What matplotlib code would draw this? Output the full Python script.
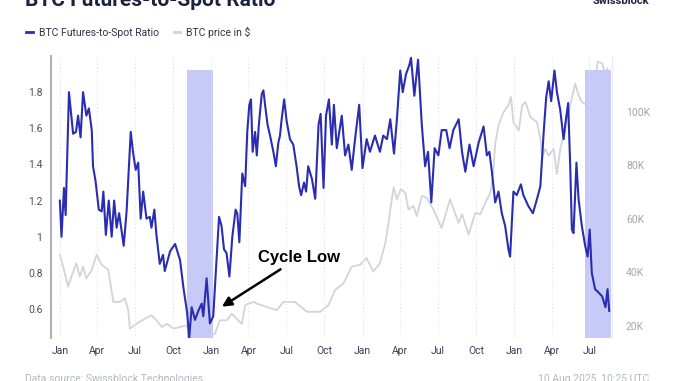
import matplotlib
matplotlib.use("Agg")
import matplotlib.pyplot as plt
import matplotlib.dates as mdates
from matplotlib.ticker import FuncFormatter
import pandas as pd

# days since 2022-01-01
ratio_days = [0, 4, 10, 14, 22, 32, 39, 44, 50, 56, 64, 70, 77, 80, 86, 94, 101, 105, 111, 118,
              125, 131, 137, 143, 149, 154, 161, 171, 177, 183, 189, 195, 201, 209, 217, 221, 228,
              233, 241, 249, 253, 266, 278, 290, 298, 307, 312, 318, 326, 334, 342, 346, 354, 362,
              370, 378, 384, 390, 396, 402, 409, 416, 424, 428, 433, 440, 447, 452, 457, 461, 465,
              471, 475, 480, 487, 491, 495, 501, 507, 515, 521, 527, 531, 535, 541, 547, 555, 563,
              571, 577, 582, 589, 594, 599, 608, 616, 624, 629, 636, 642, 649, 656, 661, 668, 680,
              688, 696, 704, 712, 722, 730, 740, 748, 760, 772, 780, 789, 797, 806, 813, 821, 827,
              835, 843, 847, 855, 864, 873, 881, 888, 896, 904, 913, 921, 932, 940, 949, 962, 970,
              978, 988, 998, 1010, 1022, 1030, 1036, 1042, 1050, 1058, 1066, 1074, 1082, 1086,
              1094, 1102, 1112, 1118, 1130, 1141, 1151, 1159, 1167, 1173, 1179, 1185, 1193, 1199,
              1207, 1215, 1219, 1226, 1231, 1235, 1239, 1246, 1251, 1259, 1267, 1273, 1278, 1283,
              1291, 1300, 1308, 1316, 1321, 1325]
ratio_vals = [1.20, 1.00, 1.27, 1.12, 1.80, 1.57, 1.58, 1.67, 1.55, 1.80, 1.67, 1.71, 1.59, 1.39,
              1.31, 1.15, 1.14, 1.25, 1.01, 1.20, 1.00, 1.20, 1.05, 1.13, 1.03, 0.95, 1.14, 1.58,
              1.46, 1.37, 1.41, 1.10, 1.25, 1.10, 1.11, 1.05, 1.15, 1.01, 0.85, 0.90, 0.81, 0.92,
              0.96, 0.87, 0.72, 0.58, 0.44, 0.61, 0.54, 0.59, 0.63, 0.56, 0.77, 0.52, 0.56, 0.87,
              1.11, 1.06, 0.93, 0.91, 0.78, 1.00, 1.15, 1.13, 0.97, 1.35, 1.28, 1.58, 1.73, 1.76,
              1.47, 1.58, 1.45, 1.62, 1.79, 1.81, 1.73, 1.62, 1.56, 1.47, 1.39, 1.52, 1.56, 1.65,
              1.76, 1.64, 1.54, 1.51, 1.39, 1.28, 1.23, 1.30, 1.25, 1.39, 1.32, 1.21, 1.62, 1.68,
              1.27, 1.67, 1.76, 1.51, 1.73, 1.49, 1.67, 1.45, 1.51, 1.37, 1.54, 1.73, 1.38, 1.54,
              1.47, 1.56, 1.47, 1.56, 1.54, 1.65, 1.46, 1.65, 1.92, 1.80, 1.90, 1.95, 1.99, 1.78,
              1.98, 1.62, 1.39, 1.47, 1.19, 1.49, 1.45, 1.59, 1.59, 1.49, 1.59, 1.65, 1.47, 1.36,
              1.51, 1.39, 1.52, 1.61, 1.45, 1.47, 1.36, 1.19, 1.25, 1.13, 1.06, 0.93, 0.89, 1.25,
              1.23, 1.29, 1.23, 1.17, 1.13, 1.21, 1.28, 1.58, 1.77, 1.86, 1.75, 1.92, 1.80, 1.70,
              1.54, 1.62, 1.74, 1.39, 1.04, 1.02, 1.41, 1.21, 1.06, 0.95, 0.89, 1.04, 0.80, 0.71,
              0.69, 0.67, 0.61, 0.71, 0.59]

price_days = [0, 8, 20, 28, 40, 48, 56, 64, 77, 89, 101, 117, 129, 145, 157, 165, 169, 185, 205,
              221, 233, 246, 258, 274, 306, 314, 362, 374, 386, 402, 415, 430, 439, 447, 467, 475,
              499, 523, 539, 567, 596, 628, 648, 664, 684, 704, 724, 740, 756, 772, 785, 793, 797,
              805, 813, 822, 833, 841, 853, 861, 873, 885, 901, 921, 941, 962, 970, 986, 1002,
              1014, 1030, 1038, 1045, 1050, 1058, 1070, 1082, 1088, 1094, 1107, 1115, 1123, 1135,
              1151, 1159, 1163, 1171, 1179, 1191, 1199, 1207, 1219, 1231, 1243, 1251, 1259, 1272,
              1279, 1291, 1297, 1308, 1316, 1321]
price_k = [46.6, 42.1, 34.6, 38.4, 43.4, 38.4, 42.1, 37.7, 40.9, 46.6, 42.8, 40.9, 28.9, 28.9,
           30.2, 25.8, 18.9, 20.7, 22.6, 23.9, 22.0, 19.5, 20.7, 18.9, 20.1, 15.7, 16.0, 17.0,
           22.0, 22.0, 24.5, 22.0, 20.7, 27.7, 28.9, 28.3, 27.0, 25.8, 28.9, 28.9, 25.2, 25.2,
           27.7, 33.4, 35.8, 42.1, 42.8, 45.3, 40.3, 43.4, 50.9, 58.5, 63.5, 71.7, 67.3, 71.1,
           69.8, 63.5, 64.8, 61.0, 68.6, 67.9, 63.5, 56.6, 67.3, 58.5, 61.7, 54.1, 62.3, 61.7,
           67.3, 69.5, 76.0, 88.0, 95.0, 100.0, 102.5, 105.7, 96.2, 93.1, 102.5, 103.8, 98.1,
           96.2, 90.0, 83.0, 86.2, 83.7, 86.2, 76.8, 86.2, 93.7, 102.5, 110.7, 106.3, 103.8,
           102.5, 107.5, 109.4, 118.9, 118.3, 113.8, 116.4]

# highlighted periods (start day, end day)
highlights = [(307, 370), (1267, 1330)]

start = pd.Timestamp("2022-01-01")


def toDates(days):
    return start + pd.to_timedelta(days, unit="D")


plt.rcParams["font.family"] = ["Roboto", "DejaVu Sans"]

fig = plt.figure(figsize=(6.78, 3.81), dpi=100)
ax = fig.add_axes([0.0748, 0.113, 0.828, 0.740])
ax2 = ax.twinx()

blue = "#2a2db0"
gray = "#d3d4da"

for a, b in highlights:
    ax.fill_between([toDates(a), toDates(b)], 0.44, 1.92, color="#c7c9f7", lw=0, zorder=1)

ax2.plot(toDates(price_days), price_k, color=gray, lw=1.3, zorder=2)
ax.plot(toDates(ratio_days), ratio_vals, color=blue, lw=1.5, zorder=3)
ax.set_zorder(ax2.get_zorder() + 1)
ax.patch.set_visible(False)

ax.set_xlim(toDates(-22), toDates(1332))
ax.set_ylim(0.44, 2.0)
ax2.set_ylim(15.4, 121)

ax.set_yticks([0.6, 0.8, 1.0, 1.2, 1.4, 1.6, 1.8])
ax.yaxis.set_major_formatter(FuncFormatter(lambda v, p: "1" if abs(v - 1) < 1e-9 else "{:.1f}".format(v)))
ax2.set_yticks([20, 40, 60, 80, 100])
ax2.yaxis.set_major_formatter(FuncFormatter(lambda v, p: "{:.0f}K".format(v)))

ax.xaxis.set_major_locator(mdates.MonthLocator(bymonth=[1, 4, 7, 10]))
ax.xaxis.set_major_formatter(mdates.DateFormatter("%b"))

ax.grid(axis="x", color="#e3e3e8", ls=(0, (1, 2)), lw=0.8)
ax.tick_params(axis="x", length=0, pad=6, labelsize=7.5, labelcolor="#3c4058")
ax.tick_params(axis="y", length=0, pad=6, labelsize=7.5, labelcolor="#4a4f63")
ax2.tick_params(axis="y", length=0, pad=10, labelsize=7.5, labelcolor="#a4a6b0")

for s in ["top", "right", "bottom"]:
    ax.spines[s].set_visible(False)
    ax2.spines[s].set_visible(False)
ax.spines["left"].set_color("#a9abb5")
ax.spines["left"].set_linewidth(1.4)
ax2.spines["left"].set_visible(False)
ax2.spines["right"].set_visible(True)
ax2.spines["right"].set_color("#ececf0")
ax2.spines["right"].set_linewidth(1.0)

ax.annotate("Cycle Low", xy=(toDates(391), 0.613), xytext=(toDates(478), 0.885),
            fontsize=12, fontweight="bold", family=["Liberation Sans", "DejaVu Sans"],
            color="black", va="center", ha="left",
            arrowprops=dict(arrowstyle="-|>", color="black", lw=1.8, mutation_scale=14,
                            shrinkA=2, shrinkB=0))

h1, = ax.plot([], [], color=blue, lw=2)
h2, = ax.plot([], [], color=gray, lw=2)
fig.legend([h1, h2], ["BTC Futures-to-Spot Ratio", "BTC price in $"], loc="upper left",
           bbox_to_anchor=(0.025, 0.955), ncol=2, frameon=False, fontsize=7.5,
           handlelength=0.6, handletextpad=0.6, columnspacing=1.4, labelcolor="#2f3345")

fig.text(0.037, 0.984, "BTC Futures-to-Spot Ratio", fontsize=15, fontweight="bold",
         color="#1c2140", va="baseline", ha="left")
fig.text(0.958, 0.99, "Swissblock", fontsize=8, fontweight="bold", color="#1c2140",
         va="baseline", ha="right")
fig.text(0.037, 0.018, "Data source: Swissblock Technologies", fontsize=7.5, color="#b5b7bf",
         va="top", ha="left")
fig.text(0.958, 0.018, "10 Aug 2025, 10:25 UTC", fontsize=7.5, color="#b5b7bf",
         va="top", ha="right")

fig.savefig("out.png", dpi=100)
